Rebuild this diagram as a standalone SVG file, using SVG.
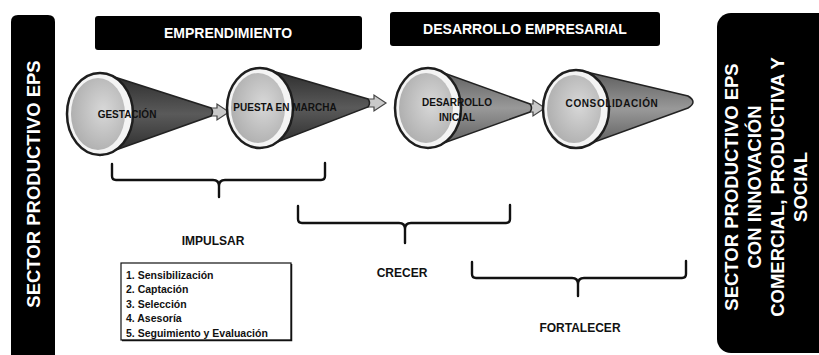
<svg xmlns="http://www.w3.org/2000/svg" width="819" height="355" viewBox="0 0 819 355">
<defs>
<linearGradient id="coneDark" x1="0" y1="0" x2="0" y2="1">
<stop offset="0" stop-color="#2a2a2a"/><stop offset="0.5" stop-color="#5a5a5a"/><stop offset="1" stop-color="#2a2a2a"/>
</linearGradient>
<linearGradient id="coneMid" x1="0" y1="0" x2="0" y2="1">
<stop offset="0" stop-color="#5a5a5a"/><stop offset="0.5" stop-color="#999"/><stop offset="1" stop-color="#5a5a5a"/>
</linearGradient>
<radialGradient id="disc" cx="0.6" cy="0.45" r="0.6">
<stop offset="0" stop-color="#d8d8d8"/><stop offset="1" stop-color="#b0b0b0"/>
</radialGradient>
<style>
.bar{fill:#000}
.sideT{font-family:"Liberation Sans",Arial,sans-serif;font-weight:bold;font-size:18.5px;fill:#fff;text-anchor:middle}
.hdr{fill:#000}
.hdrT{font-family:"Liberation Sans",Arial,sans-serif;font-weight:bold;font-size:14px;fill:#fff;text-anchor:middle}
.cone{stroke:#222;stroke-width:1.5}
.rim{fill:#f4f4f4;stroke:#1e1e1e;stroke-width:2.5}
.face{fill:url(#disc)}
.lbl{font-family:"Liberation Sans",Arial,sans-serif;font-weight:bold;font-size:10px;fill:#111;text-anchor:middle}
.arr{fill:#c9c9c9;stroke:#444;stroke-width:1.2}
.brace{fill:none;stroke:#111;stroke-width:2.4;stroke-linecap:round;stroke-linejoin:round}
.bl{font-family:"Liberation Sans",Arial,sans-serif;font-weight:bold;font-size:12px;fill:#111;text-anchor:middle}
.list{font-family:"Liberation Sans",Arial,sans-serif;font-weight:bold;font-size:10.5px;fill:#111}
</style>
</defs>
<rect width="819" height="355" fill="#fff"/>

<g id="left-bar">
<path class="bar" d="M11,355 V22 Q11,15 18,15 H48 Q55,15 55,22 V355 Z"/>
<text class="sideT" transform="translate(33,184) rotate(-90)" y="7">SECTOR PRODUCTIVO EPS</text>
</g>

<g id="right-bar">
<rect class="bar" x="717" y="13" width="116" height="340" rx="14"/>
<g transform="translate(0,187) rotate(-90)">
<text class="sideT" x="0" y="738">SECTOR PRODUCTIVO EPS</text>
<text class="sideT" x="0" y="761">CON INNOVACIÓN</text>
<text class="sideT" x="0" y="784">COMERCIAL, PRODUCTIVA Y</text>
<text class="sideT" x="0" y="807">SOCIAL</text>
</g>
</g>

<g id="hdr-emprendimiento">
<rect class="hdr" x="95" y="16" width="267" height="34" rx="3"/>
<text class="hdrT" x="228" y="38">EMPRENDIMIENTO</text>
</g>
<g id="hdr-desarrollo">
<rect class="hdr" x="390" y="12" width="270" height="34" rx="3"/>
<text class="hdrT" x="525" y="34">DESARROLLO EMPRESARIAL</text>
</g>

<g id="connectors">
<path class="arr" d="M211,108 h6 v-4 l12,8 l-12,8 v-4 h-6 z"/>
<path class="arr" d="M367,99 h7 v-4 l12,8 l-12,8 v-4 h-7 z"/>
<path class="arr" d="M527,104 h6 v-4 l12,8 l-12,8 v-4 h-6 z"/>
</g>

<g id="cone-gestacion">
<path class="cone" fill="url(#coneDark)" d="M102,73 L211,108 Q214,112 211,116 L102,155 Z"/>
<ellipse class="rim" cx="100" cy="114" rx="33" ry="41"/>
<ellipse class="face" cx="98" cy="114" rx="27" ry="36"/>
<text class="lbl" x="127" y="118">GESTACIÓN</text>
</g>

<g id="cone-puesta">
<path class="cone" fill="url(#coneDark)" d="M262,68 L368,99 Q371,103 368,107 L262,148 Z"/>
<ellipse class="rim" cx="260" cy="108" rx="33" ry="40"/>
<ellipse class="face" cx="258" cy="108" rx="27" ry="35"/>
<text class="lbl" x="285" y="111">PUESTA EN MARCHA</text>
</g>

<g id="cone-desarrollo">
<path class="cone" fill="url(#coneMid)" d="M430,68 L530,104 Q533,108 530,112 L430,148 Z"/>
<ellipse class="rim" cx="428" cy="108" rx="33" ry="40"/>
<ellipse class="face" cx="426" cy="108" rx="27" ry="35"/>
<text class="lbl" x="457" y="106">DESARROLLO</text>
<text class="lbl" x="457" y="121">INICIAL</text>
</g>

<g id="cone-consolidacion">
<path class="cone" fill="url(#coneMid)" d="M578,70 L688,96 Q698,102 688,108 L578,148 Z"/>
<ellipse class="rim" cx="576" cy="109" rx="33" ry="39"/>
<ellipse class="face" cx="574" cy="109" rx="27" ry="34"/>
<text class="lbl" x="612" y="107" letter-spacing="0.6">CONSOLIDACIÓN</text>
</g>

<g id="brace-impulsar">
<path class="brace" d="M112,164 V176 Q112,180 116,180 H213 Q219,180 219,186 V197 M219,186 Q219,180 225,180 H321 Q325,180 325,176 V163"/>
<text class="bl" x="213" y="245">IMPULSAR</text>
</g>

<g id="brace-crecer">
<path class="brace" d="M298,206 V219 Q298,223 302,223 H399 Q405,223 405,229 V243 M405,229 Q405,223 411,223 H506 Q510,223 510,219 V205"/>
<text class="bl" x="402" y="277">CRECER</text>
</g>

<g id="brace-fortalecer">
<path class="brace" d="M472,262 V274 Q472,278 476,278 H572 Q578,278 578,284 V296 M578,284 Q578,278 584,278 H682 Q686,278 686,274 V261"/>
<text class="bl" x="580" y="332">FORTALECER</text>
</g>

<g id="list-box">
<rect x="121" y="263" width="170" height="77" fill="#fff" stroke="#111" stroke-width="1.2"/>
<path d="M291.5,264 V340.5 H122" fill="none" stroke="#111" stroke-width="1.5"/>
<text class="list" x="126" y="279">1. Sensibilización</text>
<text class="list" x="126" y="293">2. Captación</text>
<text class="list" x="126" y="307.5">3. Selección</text>
<text class="list" x="126" y="322">4. Asesoría</text>
<text class="list" x="126" y="336.5">5. Seguimiento y Evaluación</text>
</g>
</svg>
